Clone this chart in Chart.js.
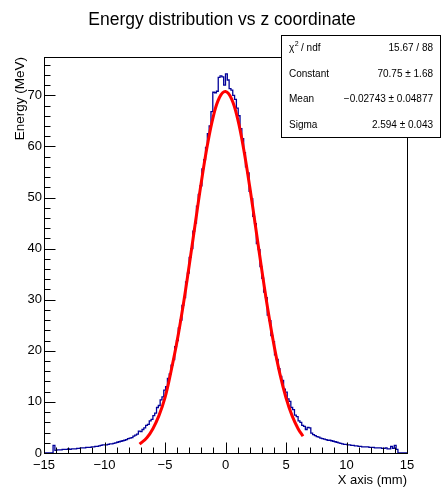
<!DOCTYPE html>
<html>
<head>
<meta charset="utf-8">
<script src="https://cdn.jsdelivr.net/npm/chart.js@4/dist/chart.umd.min.js"></script>
<style>
  body{margin:0;background:#fff;}
  canvas{display:block;}
</style>
</head>
<body>
<canvas id="c" width="441" height="489"></canvas>
<script>
// Histogram: 200 bins from -15 to 15 mm
const xMin=-15, xMax=15;
const counts=[
  0,0,0,0,0,1.5,0.5,0.6,0.6,0.6,
  0.7,0.7,0.7,0.8,0.7,0.8,0.8,0.8,0.9,0.9,
  1.0,1.0,1.0,1.1,1.1,1.1,1.2,1.2,1.3,1.3,
  1.4,1.5,1.6,1.6,1.6,1.7,1.8,1.8,1.9,2.0,
  2.1,2.2,2.3,2.4,2.5,2.6,2.8,2.9,3.0,3.3,
  3.5,3.7,4.3,4.2,4.6,4.9,5.4,5.6,6.3,6.6,
  7.3,7.8,8.9,9.3,10.4,11.0,12.3,13.0,14.6,15.5,
  17.2,18.3,20.8,22.0,24.5,26.0,28.9,30.4,33.5,35.2,
  38.3,40.0,43.4,45.0,48.3,50.6,52.3,55.6,57.4,59.8,
  62.5,64.0,66.8,70.6,70.5,70.8,73.5,73.8,73.6,72.0,
  74.2,73.0,71.3,71.0,70.0,69.2,67.5,66.0,63.5,61.5,
  58.8,56.0,54.8,51.2,49.8,46.3,44.9,41.0,39.8,36.5,
  34.2,31.5,30.4,27.0,25.9,23.0,21.8,19.2,18.3,16.5,
  15.0,14.2,12.5,11.9,10.6,10.1,8.9,8.5,7.4,7.1,
  6.3,6.0,5.4,5.2,4.6,5.0,4.9,3.9,3.6,3.4,
  3.2,3.1,2.9,2.8,2.7,2.6,2.5,2.5,2.4,2.3,
  2.2,2.1,2.0,1.9,1.8,1.7,1.7,1.6,1.6,1.5,
  1.5,1.4,1.4,1.3,1.3,1.2,1.2,1.2,1.2,1.1,
  1.1,1.1,1.0,1.0,1.0,1.0,0.9,0.9,1.0,0.8,
  0.8,1.3,0.9,1.5,0.7,0,0,0,0,0
];

// Gaussian fit curve
const fitX=[-7.1,-6.5,-6,-5.5,-5,-4.5,-4,-3.5,-3,-2.5,-2,-1.5,-1,-0.5,0,0.5,1,1.5,2,2.5,3,3.5,4,4.5,5,5.5,6,6.4];
const fitY=[1.72,2.99,4.76,7.31,10.82,16.0,21.9,28.87,36.69,44.91,52.98,60.21,65.95,69.58,70.75,69.31,65.42,59.49,52.14,44.02,35.81,28.07,21.2,15.43,10.82,7.31,4.76,3.29];

// Axis ticks
const xTicks=[-15,-10,-5,0,5,10,15];
const yTicks=[0,10,20,30,40,50,60,70];
const yMax=77.5;

// Stats box
const statLabels=['χ2 / ndf','Constant','Mean','Sigma'];
const statValues=['15.67 / 88','70.75 ± 1.68','−0.02743 ± 0.04877','2.594 ± 0.043'];

const FONT='"Liberation Sans", Arial, Helvetica, sans-serif';

// bin i spans [xMin+i*binW, xMin+(i+1)*binW]
const binW=(xMax-xMin)/counts.length;
const histPts=counts.map((v,i)=>({x:xMin+i*binW, y:v}));
histPts.push({x:xMax, y:0});
const fitPts=fitX.map((x,i)=>({x:x, y:fitY[i]}));

// ROOT style frame, inner ticks, title and stats box
const rootDecor={
  id:'rootDecor',
  afterDraw(chart){
    const {ctx,chartArea:a,scales:{x,y}}=chart;
    ctx.save();
    ctx.strokeStyle='#000'; ctx.lineWidth=1;
    const L=Math.round(a.left)+0.5, R=Math.round(a.right)+0.5, T=Math.round(a.top)+0.5, B=Math.round(a.bottom)+0.5;
    ctx.strokeRect(L,T,R-L,B-T);
    ctx.beginPath();
    for(let v=xMin; v<=xMax; v+=1){
      const px=Math.round(x.getPixelForValue(v))+0.5;
      const len=(v%5===0)?11:6;
      ctx.moveTo(px,B); ctx.lineTo(px,B-len);
    }
    for(let v=0; v<=yMax; v+=2){
      const py=Math.round(y.getPixelForValue(v))+0.5;
      const len=(v%10===0)?11:6;
      ctx.moveTo(L,py); ctx.lineTo(L+len,py);
    }
    ctx.stroke();

    // title
    ctx.fillStyle='#000';
    ctx.font='17.5px '+FONT;
    ctx.textAlign='center'; ctx.textBaseline='middle';
    ctx.fillText('Energy distribution vs z coordinate',222,20);

    // stats box
    const bx=281.5, by=35.5, bw=159, bh=102;
    ctx.fillStyle='#fff';
    ctx.fillRect(bx,by,bw,bh);
    ctx.strokeRect(bx,by,bw,bh);
    ctx.fillStyle='#000';
    ctx.font='10px '+FONT;
    const rowH=bh/statLabels.length;
    statLabels.forEach((lab,i)=>{
      const ty=by+rowH*(i+0.5);
      ctx.textAlign='left';
      if(i===0){
        ctx.fillText('χ',289,ty);
        const w=ctx.measureText('χ').width;
        ctx.font='7px '+FONT;
        ctx.fillText('2',289+w+0.5,ty-4);
        ctx.font='10px '+FONT;
        ctx.fillText(' / ndf',289+w+4,ty);
      } else {
        ctx.fillText(lab,289,ty);
      }
      ctx.textAlign='right';
      ctx.fillText(statValues[i],433,ty);
    });
    ctx.restore();
  }
};

const fmt=v=>String(v).replace('-','−');

new Chart(document.getElementById('c'),{
  type:'line',
  data:{
    datasets:[
      {label:'fit', data:fitPts, borderColor:'#ff0000', borderWidth:3, pointRadius:0, fill:false, tension:0.4, order:0},
      {label:'hist', data:histPts, borderColor:'#000099', borderWidth:1.3, pointRadius:0, fill:false, stepped:'before', order:1}
    ]
  },
  options:{
    responsive:false,
    animation:false,
    events:[],
    layout:{padding:{top:57,right:34,left:0,bottom:0}},
    plugins:{legend:{display:false}, tooltip:{enabled:false}, title:{display:false}},
    scales:{
      x:{
        type:'linear', min:xMin, max:xMax,
        grid:{display:false, drawTicks:false}, border:{display:false},
        afterBuildTicks(s){ s.ticks=xTicks.map(v=>({value:v})); },
        afterFit(s){ s.height=36; },
        ticks:{color:'#000', font:{family:FONT, size:13}, padding:5, maxRotation:0, autoSkip:false, callback:v=>fmt(v)},
        title:{display:true, text:'X axis (mm)', align:'end', color:'#000', font:{family:FONT, size:13}, padding:{top:0,bottom:1}}
      },
      y:{
        type:'linear', min:0, max:yMax,
        grid:{display:false, drawTicks:false}, border:{display:false},
        afterBuildTicks(s){ s.ticks=yTicks.map(v=>({value:v})); },
        afterFit(s){ s.width=44; },
        ticks:{color:'#000', font:{family:FONT, size:13}, padding:2, callback:v=>fmt(v)},
        title:{display:true, text:'Energy (MeV)', align:'end', color:'#000', font:{family:FONT, size:13.5}, padding:{top:12,bottom:0}}
      }
    }
  },
  plugins:[rootDecor]
});
</script>
</body>
</html>
